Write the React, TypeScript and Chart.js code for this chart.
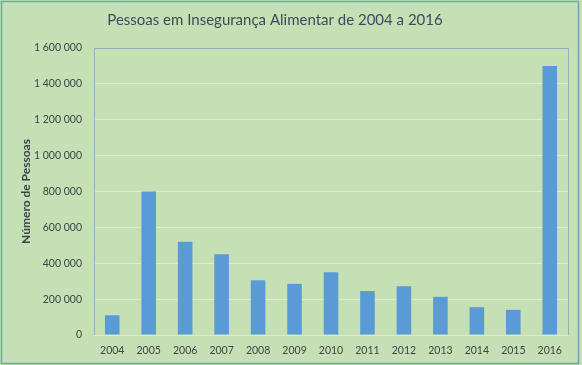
import React, { useEffect, useRef } from "react";
import { Chart, registerables } from "chart.js";

Chart.register(...registerables);

const TITLE = "Pessoas em Insegurança Alimentar de 2004 a 2016";
const Y_TITLE = "Número de Pessoas";
const YEARS = ["2004", "2005", "2006", "2007", "2008", "2009", "2010", "2011", "2012", "2013", "2014", "2015", "2016"];
const PEOPLE = [110000, 800000, 520000, 450000, 305000, 285000, 350000, 245000, 272000, 213000, 155000, 140000, 1500000];
const Y_MAX = 1600000;
const Y_STEP = 200000;

const fmt = (v: number) => String(v).replace(/\B(?=(\d{3})+(?!\d))/g, " ");

const decor = {
  id: "decor",
  beforeDraw(chart: any) {
    const { ctx, width, height } = chart;
    ctx.save();
    ctx.fillStyle = "#c6e0b5";
    ctx.fillRect(0, 0, width, height);
    ctx.strokeStyle = "#6aa7b5";
    ctx.lineWidth = 1.5;
    ctx.strokeRect(1.5, 1.5, width - 5, height - 3);
    ctx.restore();
  },
  afterDatasetsDraw(chart: any) {
    const { ctx, chartArea: a } = chart;
    ctx.save();
    ctx.strokeStyle = "#8fb3b8";
    ctx.lineWidth = 1;
    ctx.beginPath();
    ctx.moveTo(Math.round(a.left) + 0.5, Math.round(a.bottom));
    ctx.lineTo(Math.round(a.left) + 0.5, Math.round(a.top) + 0.5);
    ctx.lineTo(Math.round(a.right) + 0.5, Math.round(a.top) + 0.5);
    ctx.lineTo(Math.round(a.right) + 0.5, Math.round(a.bottom));
    ctx.stroke();
    ctx.font = "15px Lato";
    ctx.fillStyle = "#3d4b5c";
    ctx.textAlign = "center";
    ctx.textBaseline = "middle";
    ctx.fillText(TITLE, 275, 20);
    ctx.restore();
  },
};

export default function App() {
  const ref = useRef<HTMLCanvasElement>(null);
  useEffect(() => {
    document.body.style.margin = "0";
    const chart = new Chart(ref.current!, {
      type: "bar",
      data: {
        labels: YEARS,
        datasets: [
          {
            data: PEOPLE,
            backgroundColor: "#5b9bd5",
            barPercentage: 0.4,
            categoryPercentage: 1,
          },
        ],
      },
      options: {
        animation: false,
        responsive: false,
        devicePixelRatio: 1,
        layout: { padding: { left: 0, right: 14, top: 48, bottom: 0 } },
        plugins: { legend: { display: false }, title: { display: false }, tooltip: { enabled: false } },
        scales: {
          x: {
            grid: { display: false, drawTicks: false },
            border: { display: false },
            ticks: { color: "#3f4448", font: { family: "Lato", size: 10.5 }, padding: 9, maxRotation: 0 },
            afterFit: (s: any) => { s.height = 30; },
          },
          y: {
            min: 0,
            max: Y_MAX,
            grid: { color: "#dcecd0", lineWidth: 1, drawTicks: false },
            border: { display: false },
            ticks: {
              stepSize: Y_STEP,
              color: "#3f4448",
              font: { family: "Lato", size: 10.5 },
              padding: 12,
              callback: (v: any) => fmt(Number(v)),
            },
            title: {
              display: true,
              text: Y_TITLE,
              color: "#3f4448",
              font: { family: "Lato", size: 12, weight: "bold" },
              padding: { top: 19, bottom: 0 },
            },
            afterFit: (s: any) => { s.width = 94; },
          },
        },
      },
      plugins: [decor],
    });
    return () => chart.destroy();
  }, []);
  return (
    <div style={{ position: "fixed", left: 0, top: 0, width: 582, height: 365 }}>
      <canvas ref={ref} width={582} height={365} style={{ display: "block" }} />
    </div>
  );
}
